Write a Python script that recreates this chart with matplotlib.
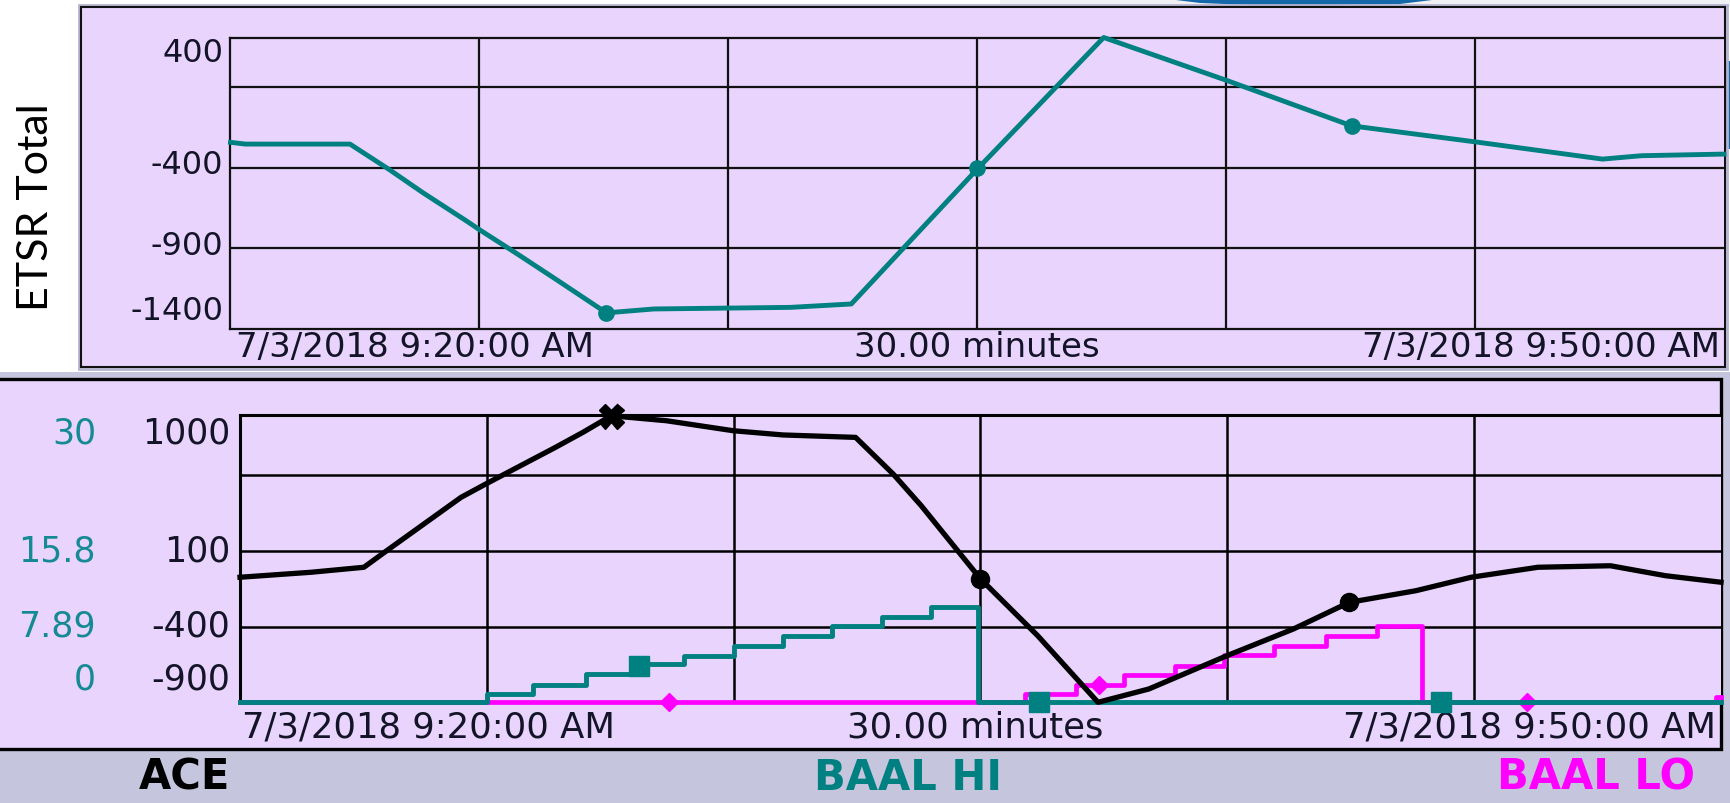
import matplotlib
matplotlib.use("Agg")
import matplotlib.pyplot as plt
import matplotlib.transforms as mtransforms
from matplotlib.patches import Rectangle, Polygon

# ------------------------------------------------------------------ data
# time axis: minutes after 7/3/2018 9:20:00 AM
x_tick_pos = [0, 15, 30]
x_tick_text = ["7/3/2018 9:20:00 AM", "30.00 minutes", "7/3/2018 9:50:00 AM"]
grid_minutes = [5, 10, 15, 20, 25]

# top panel: ETSR Total
etsr_t = [0, 0.3, 2.4, 3.2, 3.86, 4.76, 5.0, 5.76, 6.55, 7.55, 8.5, 11.25,
          12.47, 15.0, 17.54, 20.03, 22.52, 25.07, 27.56, 28.34, 30]
etsr_v = [-244, -255, -255, -415, -555, -735, -785, -935, -1095, -1300, -1276,
          -1266, -1245, -410, 405, 137, -142, -244, -348, -327, -317]
etsr_mark_t = [7.55, 15.0, 22.52]
etsr_mark_v = [-1300, -400, -142]
etsr_ylim = (-1400, 400)
etsr_grid = [-900, -400, 100]
etsr_ticks = [400, -400, -900, -1400]

# bottom panel: ACE (left scale)
ace_t = [0, 1.44, 2.51, 3.02, 4.48, 4.98, 6.39, 6.95, 7.52, 8.64, 9.99, 11.0,
         12.47, 13.23, 13.8, 15.0, 16.16, 17.38, 18.41, 19.99, 21.34, 22.47,
         23.82, 24.94, 26.29, 27.76, 28.88, 30]
ace_v = [-73, -40, -7, 114, 456, 544, 786, 886, 995, 962, 896, 868,
         852, 610, 400, -84, -460, -900, -812, -592, -415, -239,
         -162, -73, -7, 3, -63, -106]
ace_mark_t = [15.0, 22.47]
ace_mark_v = [-84, -239]
ace_peak_t = [7.52]
ace_peak_v = [995]
ace_ylim = (-900, 1000)
ace_grid = [-400, 100, 600]
ace_ticks = [1000, 100, -400, -900]

# BAAL HI / BAAL LO (teal scale)
baal_ylim = (0, 30)
baal_ticks = [30, 15.8, 7.89, 0]
baal_tick_text = ["30", "15.8", "7.89", "0"]

hi_t = [0, 5.0, 5.94, 7.0, 8.06, 9.0, 10.0, 11.0, 12.0, 13.0, 14.0, 14.95, 30]
hi_v = [0, 0.87, 1.84, 2.95, 4.0, 4.87, 5.91, 6.95, 8.0, 8.87, 9.92, 0, 0]
hi_mark_t = [8.08, 16.18, 24.33]
hi_mark_v = [3.75, 0, 0]

lo_t = [0, 15.9, 16.93, 17.9, 18.93, 19.93, 20.95, 22.0, 23.03, 23.95, 29.9, 30]
lo_v = [0, 0.87, 1.8, 2.9, 3.8, 4.94, 5.91, 6.95, 8.0, 0, 0.6, 0.6]
lo_mark_t = [8.7, 17.4, 26.07]
lo_mark_v = [0, 1.8, 0]

legend_names = ["ACE", "BAAL HI", "BAAL LO"]

# ------------------------------------------------------------------ style
W, H, DPI = 1731, 804, 100
LAV = "#e8d4fc"
BAND = "#c5c5de"
TEAL = "#008080"
MAG = "#ff00ff"
TXT = "#141428"
TEAL_TXT = "#168a94"
BLUE = "#1467a8"

fig = plt.figure(figsize=(W / DPI, H / DPI), dpi=DPI, facecolor="white")
px = mtransforms.Affine2D().scale(1 / W, -1 / H).translate(0, 1) + fig.transFigure


def rect(x0, y0, x1, y1, z=-5, **kw):
    r = Rectangle((x0, y0), x1 - x0, y1 - y0, transform=px, zorder=z, **kw)
    fig.add_artist(r)


def fig_axes(left, top, right, bottom):
    return fig.add_axes([left / W, 1 - bottom / H, (right - left) / W, (bottom - top) / H])


def offset(dx, dy):
    # dx, dy in pixels (dy positive = up)
    return mtransforms.ScaledTranslation(dx / DPI, dy / DPI, fig.dpi_scale_trans)


# backgrounds / frames
rect(1000, 0, W, 8, facecolor="#f1f1f3", edgecolor="none", z=-6)
fig.add_artist(Polygon([(1168, 0), (1440, 0), (1400, 5), (1330, 6), (1250, 6), (1200, 4)],
                       closed=True, transform=px, facecolor=BLUE, edgecolor="none",
                       zorder=-5))
rect(1726, 62, W, 150, facecolor=BLUE, edgecolor="none", z=-5)
rect(79, 6, 1727, 370, facecolor="none", edgecolor="#b4b4d0", linewidth=2.0, z=-5)
rect(81, 8, 1725, 368, facecolor=LAV, edgecolor="#111111", linewidth=1.5, z=-4)
rect(0, 373, W, H + 5, facecolor=BAND, edgecolor="none", z=-5)
rect(-5, 380, 1721, 750, facecolor=LAV, edgecolor="black", linewidth=2.4, z=-4)

# ------------------------------------------------------------------ top panel
ax1 = fig_axes(230.5, 39.3, 1724, 330)
ax1.set_facecolor(LAV)
ax1.set_xlim(0, 30)
ax1.set_ylim(*etsr_ylim)
ax1.set_xticks(grid_minutes)
ax1.set_yticks(etsr_grid)
ax1.tick_params(length=0, labelleft=False, labelbottom=False)
ax1.grid(True, color="#111111", linewidth=1.6)
ax1.set_axisbelow(True)
for s in ax1.spines.values():
    s.set_color("#111111")
    s.set_linewidth(1.6)
ax1.spines["right"].set_visible(False)

ax1.plot(etsr_t, etsr_v, color=TEAL, linewidth=3.5, clip_on=False, zorder=3,
         solid_joinstyle="round")
ax1.plot(etsr_mark_t, etsr_mark_v, linestyle="none", marker="o", markersize=11,
         color=TEAL, clip_on=False, zorder=4)

ylab_tr = mtransforms.blended_transform_factory(ax1.transAxes, ax1.transData)
top_dy = [-14.7, 2.8, 2.6, 18.3]
for v, dy in zip(etsr_ticks, top_dy):
    ax1.text(0, v, str(v), transform=ylab_tr + offset(-7, dy),
             ha="right", va="center", fontsize=23, color=TXT, family="DejaVu Sans")

xlab_tr = mtransforms.blended_transform_factory(ax1.transData, ax1.transAxes)
top_dx = [5.5, 0, -4]
top_ha = ["left", "center", "right"]
for p, t, dx, ha in zip(x_tick_pos, x_tick_text, top_dx, top_ha):
    ax1.text(p, 0, t, transform=xlab_tr + offset(dx, -17.5), ha=ha, va="center",
             fontsize=24.5, color=TXT, family="DejaVu Sans")

fig.text(36, 207, "ETSR Total", transform=px, rotation=90, ha="center", va="center",
         fontsize=31, family=["Lato", "DejaVu Sans"], color="black")

# ------------------------------------------------------------------ bottom panel
axg = fig_axes(240, 416, 1721, 703.3)
axg.set_facecolor(LAV)
axg.set_xlim(0, 30)
axg.set_ylim(*ace_ylim)
axg.set_xticks(grid_minutes)
axg.set_yticks(ace_grid)
axg.tick_params(length=0, labelleft=False, labelbottom=False)
axg.grid(True, color="black", linewidth=1.8)
for s in axg.spines.values():
    s.set_color("black")
    s.set_linewidth(2.2)
axg.spines["right"].set_visible(False)

axb = axg.twinx()
axb.set_ylim(*baal_ylim)
axa = axg.twinx()
axa.set_ylim(*ace_ylim)
for a in (axb, axa):
    a.set_yticks([])
    a.tick_params(length=0, labelright=False)
    for s in a.spines.values():
        s.set_visible(False)

# BAAL LO first, BAAL HI over it
axb.plot(lo_t, lo_v, drawstyle="steps-post", color=MAG, linewidth=3.4,
         clip_on=False, zorder=2)
axb.plot(lo_mark_t, lo_mark_v, linestyle="none", marker="D", markersize=9,
         color=MAG, clip_on=False, zorder=2)
axb.plot(hi_t, hi_v, drawstyle="steps-post", color=TEAL, linewidth=3.5,
         clip_on=False, zorder=3)
axb.plot(hi_mark_t, hi_mark_v, linestyle="none", marker="s", markersize=14,
         color=TEAL, clip_on=False, zorder=3)

axa.plot(ace_t, ace_v, color="black", linewidth=3.8, clip_on=False, zorder=3,
         solid_joinstyle="round")
axa.plot(ace_mark_t, ace_mark_v, linestyle="none", marker="o", markersize=13,
         color="black", clip_on=False, zorder=4)
axa.plot(ace_peak_t, ace_peak_v, linestyle="none", marker="X", markersize=18,
         color="black", clip_on=False, zorder=4)

bl_tr = mtransforms.blended_transform_factory(axa.transAxes, axa.transData)
bot_dy = [-17.3, 0.4, 1.0, 23.3]
for v, dy in zip(ace_ticks, bot_dy):
    axa.text(0, v, str(v), transform=bl_tr + offset(-10, dy),
             ha="right", va="center", fontsize=25, color=TXT, family="DejaVu Sans")

bb_tr = mtransforms.blended_transform_factory(axb.transAxes, axb.transData)
for v, t, dy in zip(baal_ticks, baal_tick_text, bot_dy):
    axb.text(0, v, t, transform=bb_tr + offset(-144, dy),
             ha="right", va="center", fontsize=25, color=TEAL_TXT, family="DejaVu Sans")

bx_tr = mtransforms.blended_transform_factory(axg.transData, axg.transAxes)
bot_dx = [1.7, -5, -5]
for p, t, dx, ha in zip(x_tick_pos, x_tick_text, bot_dx, top_ha):
    axg.text(p, 0, t, transform=bx_tr + offset(dx, -24), ha=ha, va="center",
             fontsize=25.5, color=TXT, family="DejaVu Sans")

# legend band
leg_x = [184, 908, 1596]
leg_c = ["black", TEAL, MAG]
for x, name, c in zip(leg_x, legend_names, leg_c):
    fig.text(x, 778, name, transform=px, ha="center", va="center", fontsize=30,
             fontweight="bold", color=c, family="DejaVu Sans")

fig.savefig("out.png", dpi=DPI, facecolor="white")
